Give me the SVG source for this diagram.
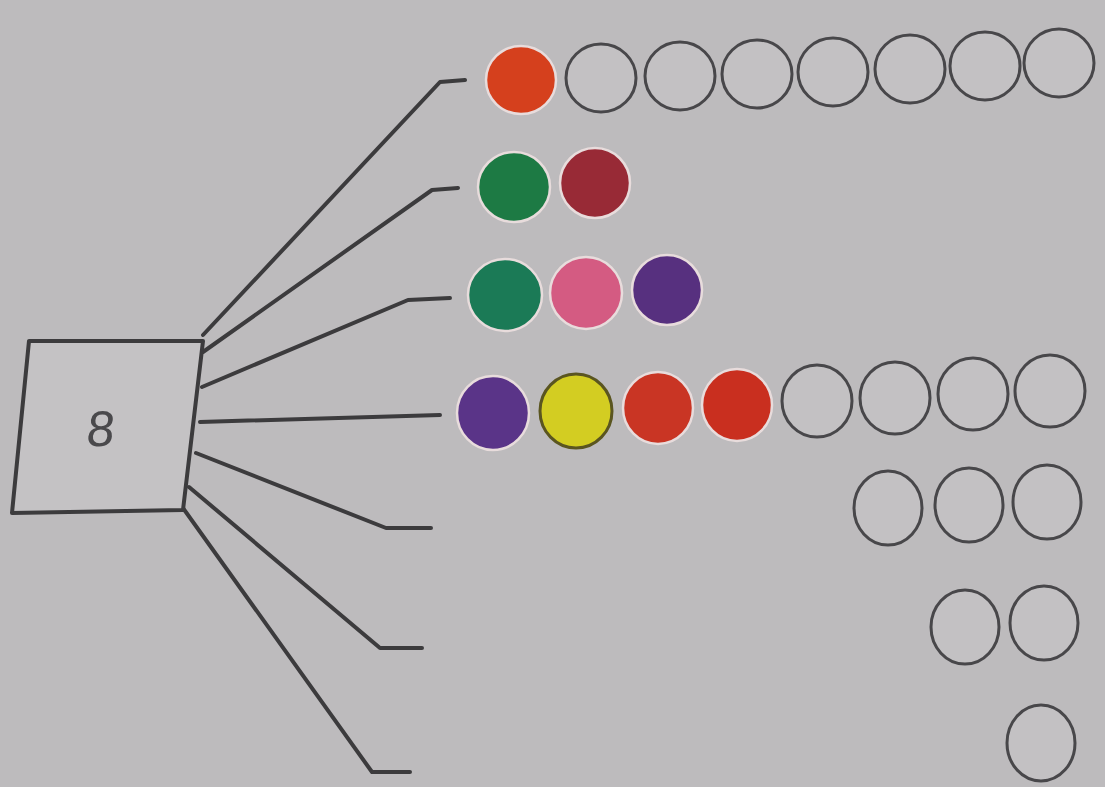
<svg xmlns="http://www.w3.org/2000/svg" width="1105" height="787" viewBox="0 0 1105 787">
<style>
.bg{fill:#bdbbbd}
.ln{fill:none;stroke:#3c3b3d;stroke-width:4;stroke-linejoin:round;stroke-linecap:round}
.box{fill:#c4c2c4;stroke:#3c3b3d;stroke-width:4;stroke-linejoin:round}
.e{fill:#c3c1c3;stroke:#48474a;stroke-width:3}
.f{stroke:#e8dcdc;stroke-width:2.5}
.num{font-family:"Liberation Sans",Arial,sans-serif;font-size:50px;fill:#4a494c}
</style>
<rect class="bg" x="0" y="0" width="1105" height="787"/>
<g id="connectors">
<polyline class="ln" points="203,335 440,82 465,80"/>
<polyline class="ln" points="203,352 432,190 458,188"/>
<polyline class="ln" points="202,387 408,300 450,298"/>
<polyline class="ln" points="200,422 440,415"/>
<polyline class="ln" points="196,453 386,528 431,528"/>
<polyline class="ln" points="189,487 380,648 422,648"/>
<polyline class="ln" points="183,508 372,772 410,772"/>
</g>
<g id="node-8">
<polygon class="box" points="29,341 203,341 183,510 12,513"/>
<text class="num" x="100" y="446" text-anchor="middle" transform="skewX(-6) translate(46,0)">8</text>
</g>
<g id="row-1">
<ellipse class="f" cx="521" cy="80" rx="35" ry="34" fill="#d5401d"/>
<ellipse class="e" cx="601" cy="78" rx="35" ry="34"/>
<ellipse class="e" cx="680" cy="76" rx="35" ry="34"/>
<ellipse class="e" cx="757" cy="74" rx="35" ry="34"/>
<ellipse class="e" cx="833" cy="72" rx="35" ry="34"/>
<ellipse class="e" cx="910" cy="69" rx="35" ry="34"/>
<ellipse class="e" cx="985" cy="66" rx="35" ry="34"/>
<ellipse class="e" cx="1059" cy="63" rx="35" ry="34"/>
</g>
<g id="row-2">
<ellipse class="f" cx="514" cy="187" rx="36" ry="35" fill="#1d7a44"/>
<ellipse class="f" cx="595" cy="183" rx="35" ry="35" fill="#982a36"/>
</g>
<g id="row-3">
<ellipse class="f" cx="505" cy="295" rx="37" ry="36" fill="#1b7a56"/>
<ellipse class="f" cx="586" cy="293" rx="36" ry="36" fill="#d45b82"/>
<ellipse class="f" cx="667" cy="290" rx="35" ry="35" fill="#57307f"/>
</g>
<g id="row-4">
<ellipse class="f" cx="493" cy="413" rx="36" ry="37" fill="#5a3488"/>
<ellipse class="f" cx="576" cy="411" rx="36" ry="37" fill="#d3cd22" style="stroke:#5a5520;stroke-width:3"/>
<ellipse class="f" cx="658" cy="408" rx="35" ry="36" fill="#c93524"/>
<ellipse class="f" cx="737" cy="405" rx="35" ry="36" fill="#c92f1f"/>
<ellipse class="e" cx="817" cy="401" rx="35" ry="36"/>
<ellipse class="e" cx="895" cy="398" rx="35" ry="36"/>
<ellipse class="e" cx="973" cy="394" rx="35" ry="36"/>
<ellipse class="e" cx="1050" cy="391" rx="35" ry="36"/>
</g>
<g id="row-5">
<ellipse class="e" cx="888" cy="508" rx="34" ry="37"/>
<ellipse class="e" cx="969" cy="505" rx="34" ry="37"/>
<ellipse class="e" cx="1047" cy="502" rx="34" ry="37"/>
</g>
<g id="row-6">
<ellipse class="e" cx="965" cy="627" rx="34" ry="37"/>
<ellipse class="e" cx="1044" cy="623" rx="34" ry="37"/>
</g>
<g id="row-7">
<ellipse class="e" cx="1041" cy="743" rx="34" ry="38"/>
</g>
</svg>
